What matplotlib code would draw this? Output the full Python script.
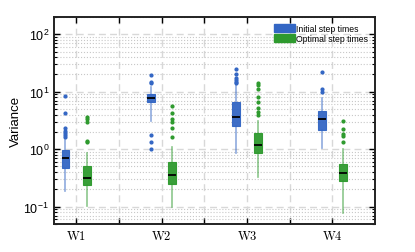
import matplotlib
matplotlib.use("Agg")
import matplotlib.pyplot as plt
from matplotlib.patches import Patch

plt.rcParams['mathtext.fontset'] = 'cm'
plt.rcParams['font.family'] = ['Liberation Sans', 'DejaVu Sans']

labels = ['W1', 'W2', 'W3', 'W4']

# initial step times: (whislo, q1, med, q3, whishi, fliers)
init_lo = [0.19, 3.13, 0.86, 1.04]
init_q1 = [0.47, 6.7, 2.57, 2.16]
init_med = [0.71, 7.65, 3.59, 3.35]
init_q3 = [0.95, 9.1, 6.5, 4.67]
init_hi = [1.45, 12.3, 13.0, 7.65]
init_fl = [[1.6, 1.75, 1.9, 2.1, 2.3, 4.3, 8.5],
           [1.0, 1.35, 1.77, 14.0, 14.8, 19.4],
           [14.0, 15.0, 16.0, 17.5, 20.2, 24.7],
           [9.7, 11.0, 22.0]]

# optimal step times
opt_lo = [0.103, 0.099, 0.33, 0.076]
opt_q1 = [0.234, 0.25, 0.86, 0.275]
opt_med = [0.318, 0.35, 1.2, 0.39]
opt_q3 = [0.50, 0.6, 1.92, 0.556]
opt_hi = [0.85, 1.1, 3.13, 1.0]
opt_fl = [[1.32, 1.41, 3.0, 3.35, 3.7],
          [1.65, 2.3, 3.0, 3.3, 4.2, 5.7],
          [3.9, 4.4, 5.3, 6.5, 8.0, 11.0, 13.0, 14.0],
          [1.32, 1.7, 1.84, 2.25, 3.1]]

blue = '#3366c4'
green = '#2e9a2e'


def make_stats(lo, q1, med, q3, hi, fl):
    return [dict(whislo=a, q1=b, med=c, q3=d, whishi=e, fliers=f)
            for a, b, c, d, e, f in zip(lo, q1, med, q3, hi, fl)]


fig = plt.figure(figsize=(4.15, 2.53), dpi=100)
ax = fig.add_axes([0.130, 0.111, 0.774, 0.818])

pos = list(range(len(labels)))
for stats, off, col in [(make_stats(init_lo, init_q1, init_med, init_q3, init_hi, init_fl), -0.125, blue),
                        (make_stats(opt_lo, opt_q1, opt_med, opt_q3, opt_hi, opt_fl), 0.125, green)]:
    ax.bxp(stats, positions=[p + off for p in pos], widths=0.09, patch_artist=True,
           showcaps=False,
           boxprops=dict(facecolor=col, edgecolor=col, linewidth=0.8, alpha=0.95),
           whiskerprops=dict(color=col, linewidth=1.2, alpha=0.55),
           medianprops=dict(color='black', linewidth=1.3),
           flierprops=dict(marker='o', markersize=2.0, markerfacecolor=col,
                           markeredgecolor=col, linestyle='none'))

ax.set_yscale('log')
ax.set_ylim(0.05, 200)
ax.set_xlim(-0.26, 3.5)
ax.set_xticks(pos)
ax.set_xticklabels([r'$\mathrm{%s}$' % l for l in labels])
ax.set_xticks([0.5, 1.5, 2.5], minor=True)

ax.grid(True, which='major', axis='both', color='#d8d8d8', linestyle=(0, (5, 3)), linewidth=1.0)
ax.grid(True, which='minor', axis='y', color='#c8c8c8', linestyle=':', linewidth=0.8)
ax.grid(True, which='minor', axis='x', color='#d8d8d8', linestyle=(0, (5, 3)), linewidth=1.0)
ax.set_axisbelow(True)

ax.tick_params(which='both', direction='in', top=True, right=True, labelsize=9)
ax.tick_params(which='major', length=4, width=1)
ax.tick_params(which='minor', length=2, width=0.8)
ax.tick_params(axis='x', which='minor', length=4, width=1)
for s in ax.spines.values():
    s.set_linewidth(1.4)
    s.set_color('#222222')

ax.set_ylabel('Variance', fontsize=9.5, labelpad=1)

handles = [Patch(facecolor=blue, edgecolor=blue), Patch(facecolor=green, edgecolor=green)]
ax.legend(handles, ['Initial step times', 'Optimal step times'], loc='upper right',
          frameon=False, fontsize=6.2, handlelength=2.4, handleheight=1.0,
          labelspacing=0.15, handletextpad=0.2, borderaxespad=0.4)

fig.savefig('out.png', dpi=100)
